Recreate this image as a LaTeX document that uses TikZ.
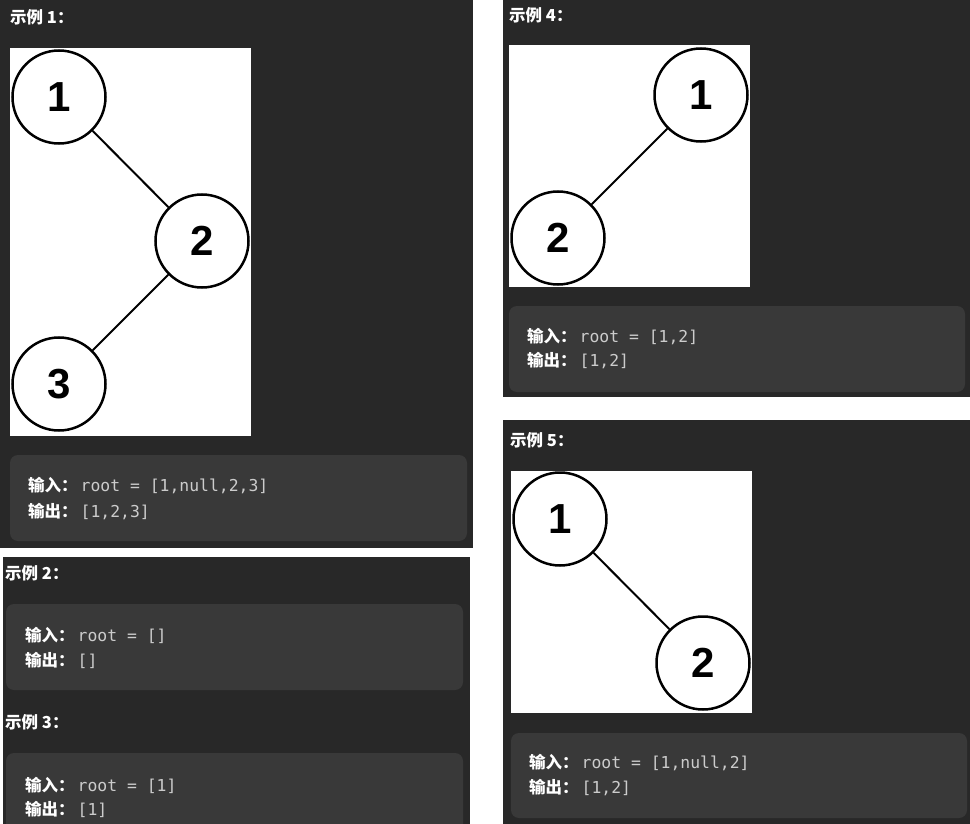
\documentclass[tikz,border=0pt]{standalone}
\usepackage{fontspec}
\newfontfamily\cjkfont{Noto Sans CJK SC}
\newfontfamily\digitfont{Liberation Sans}
\newfontfamily\codefont{DejaVu Sans Mono}
\definecolor{panelbg}{HTML}{282828}
\definecolor{codebg}{HTML}{393939}
\definecolor{codetext}{HTML}{CCCCCC}
\newcommand{\lbl}[1]{{\cjkfont\bfseries\color{white}#1}\hspace{3pt}}
\newcommand{\code}[1]{{\fontsize{16.4}{16}\selectfont\codefont\color{codetext}#1}}
\begin{document}
\begin{tikzpicture}[x=1pt, y=-1pt,
                    panel/.style = {fill=panelbg},
                    imgbox/.style = {fill=white},
                    codebox/.style = {fill=codebg, rounded corners=8pt},
                    title/.style = {anchor=west,
                                    inner sep=0pt,
                                    text=white,
                                    font=\fontsize{16.5}{16}\selectfont\cjkfont\bfseries},
                    codeline/.style = {anchor=west,
                                       inner sep=0pt,
                                       font=\fontsize{16.5}{16}\selectfont},
                    tnode/.style = {shape = circle,
                                    draw = black,
                                    line width = 2.5pt,
                                    minimum size = 93pt,
                                    inner sep=0pt,
                                    fill=white,
                                    font=\fontsize{42}{42}\selectfont\digitfont\bfseries},
                    tedge/.style = {line width=2pt}]
		\useasboundingbox (0,0) rectangle (970,824);
		\clip (0,0) rectangle (970,824);
		\fill[white] (0,0) rectangle (970,824);
		% panels
		\fill[panel] (0,0) rectangle (473,548);
		\fill[panel] (3,557) rectangle (470,824);
		\fill[panel] (503,0) rectangle (970,397);
		\fill[panel] (503,420) rectangle (970,824);
		% example 1
		\node[title] (t1) at (10,17) {示例 1：};
		\fill[imgbox] (10,48) rectangle (251,436);
		\node[tnode] (a1) at (59,97) {1};
		\node[tnode] (a2) at (202,241) {2};
		\node[tnode] (a3) at (59,384) {3};
		\path (a1) edge[tedge] (a2);
		\path (a2) edge[tedge] (a3);
		\fill[codebox] (10,455) rectangle (467,541);
		\node[codeline] (in1) at (28,486) {\lbl{输入：}\code{root = [1,null,2,3]}};
		\node[codeline] (out1) at (28,512) {\lbl{输出：}\code{[1,2,3]}};
		% example 2
		\node[title] (t2) at (5,573) {示例 2：};
		\fill[codebox] (6,604) rectangle (463,690);
		\node[codeline] (in2) at (25,635) {\lbl{输入：}\code{root = []}};
		\node[codeline] (out2) at (25,660) {\lbl{输出：}\code{[]}};
		% example 3
		\node[title] (t3) at (5,722) {示例 3：};
		\fill[codebox] (6,753) rectangle (463,840);
		\node[codeline] (in3) at (25,785) {\lbl{输入：}\code{root = [1]}};
		\node[codeline] (out3) at (25,809) {\lbl{输出：}\code{[1]}};
		% example 4
		\node[title] (t4) at (509,15) {示例 4：};
		\fill[imgbox] (509,45) rectangle (750,287);
		\node[tnode] (b1) at (701,95) {1};
		\node[tnode] (b2) at (558,238) {2};
		\path (b1) edge[tedge] (b2);
		\fill[codebox] (509,306) rectangle (965,392);
		\node[codeline] (in4) at (527,337) {\lbl{输入：}\code{root = [1,2]}};
		\node[codeline] (out4) at (527,361) {\lbl{输出：}\code{[1,2]}};
		% example 5
		\node[title] (t5) at (510,440) {示例 5：};
		\fill[imgbox] (511,471) rectangle (752,713);
		\node[tnode] (c1) at (560,519) {1};
		\node[tnode] (c2) at (703,663) {2};
		\path (c1) edge[tedge] (c2);
		\fill[codebox] (511,733) rectangle (967,818);
		\node[codeline] (in5) at (529,763) {\lbl{输入：}\code{root = [1,null,2]}};
		\node[codeline] (out5) at (529,788) {\lbl{输出：}\code{[1,2]}};
	\end{tikzpicture}
\end{document}
